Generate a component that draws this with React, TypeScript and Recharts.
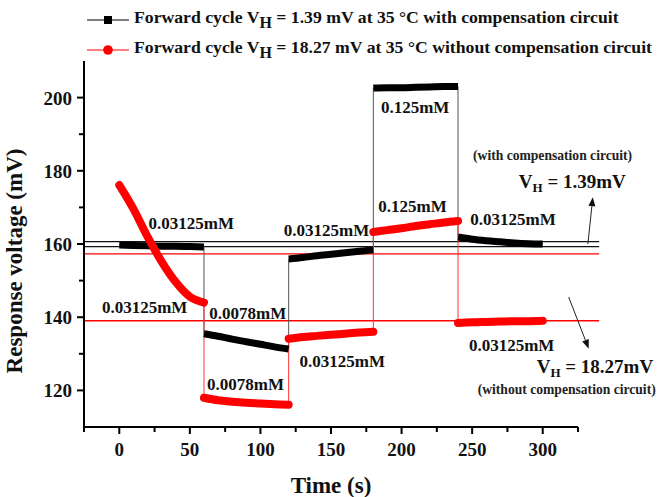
import React from 'react'
import { LineChart, Line, XAxis, YAxis, ReferenceLine, ReferenceDot } from 'recharts'

// each step lasts 60 s, sampled every 10 s
const stepStarts = [0, 60, 120, 180, 240]
const stepOffsets = [0, 10, 20, 30, 40, 50, 60]

const withCompensation = [
  [159.7, 159.6, 159.5, 159.4, 159.4, 159.3, 159.2],
  [135.5, 134.8, 134.0, 133.3, 132.6, 131.9, 131.3],
  [155.9, 156.3, 156.8, 157.2, 157.6, 158.0, 158.4],
  [202.6, 202.7, 202.7, 202.8, 202.9, 203.0, 203.0],
  [161.9, 161.3, 160.9, 160.6, 160.3, 160.1, 160.0],
]

const withoutCompensation = [
  [176.1, 169.6, 162.0, 155.2, 149.6, 145.6, 144.0],
  [118.0, 117.3, 116.9, 116.6, 116.4, 116.2, 116.1],
  [134.1, 134.6, 134.9, 135.2, 135.5, 135.8, 136.0],
  [163.3, 163.8, 164.3, 164.9, 165.4, 165.9, 166.3],
  [138.4, 138.6, 138.7, 138.8, 138.9, 138.9, 139.0],
]

// hysteresis bands
const compensatedBand = [159.26, 160.65]
const uncompensatedBand = [139.03, 157.3]

const xTicks = [-25, 0, 25, 50, 75, 100, 125, 150, 175, 200, 225, 250, 275, 300, 325]
const yTicks = [120, 130, 140, 150, 160, 170, 180, 190, 200]

const stepNotes = [
  { text: '0.03125mM', x: 51, y: 165.8 },
  { text: '0.03125mM', x: 18, y: 142.9 },
  { text: '0.0078mM', x: 91, y: 141.1 },
  { text: '0.0078mM', x: 89.4, y: 121.8 },
  { text: '0.03125mM', x: 146.8, y: 163.7 },
  { text: '0.03125mM', x: 158, y: 127.9 },
  { text: '0.125mM', x: 209.6, y: 197.4 },
  { text: '0.125mM', x: 207.8, y: 170.5 },
  { text: '0.03125mM', x: 279, y: 166.8 },
  { text: '0.03125mM', x: 278, y: 132.5 },
]

const SERIF = "'Liberation Serif', 'Times New Roman', serif"

function thickRows(segs: number[][]) {
  const rows: { t: number; v: number | null }[] = []
  segs.forEach((seg, i) => {
    if (i > 0) rows.push({ t: stepStarts[i], v: null })
    seg.forEach((v, j) => rows.push({ t: stepStarts[i] + stepOffsets[j], v }))
  })
  return rows
}

function thinRows(segs: number[][]) {
  const rows: { t: number; v: number }[] = []
  segs.forEach((seg, i) => {
    seg.forEach((v, j) => rows.push({ t: stepStarts[i] + stepOffsets[j], v }))
  })
  return rows
}

const XTick = (props: any) => {
  const { x, y, payload } = props
  const major = payload.value % 50 === 0
  return (
    <g>
      <line x1={x} x2={x} y1={y} y2={y + (major ? 7 : 5)} stroke="#000" strokeWidth={2} />
      {major && (
        <text x={x} y={y + 29} textAnchor="middle" fontFamily={SERIF} fontWeight="bold" fontSize={19} fill="#111">
          {payload.value}
        </text>
      )}
    </g>
  )
}

const YTick = (props: any) => {
  const { x, y, payload } = props
  const major = payload.value % 20 === 0
  return (
    <g>
      <line x1={x - (major ? 7 : 5)} x2={x} y1={y} y2={y} stroke="#000" strokeWidth={2} />
      {major && (
        <text x={x - 12} y={y + 7} textAnchor="end" fontFamily={SERIF} fontWeight="bold" fontSize={19} fill="#111">
          {payload.value}
        </text>
      )}
    </g>
  )
}

const arrowShape = (p: any) => {
  const { x1, y1, x2, y2 } = p
  const a = Math.atan2(y2 - y1, x2 - x1)
  const len = 9
  const w = 3.5
  const bx = x2 - len * Math.cos(a)
  const by = y2 - len * Math.sin(a)
  const pts = [
    `${x2},${y2}`,
    `${bx + w * Math.sin(a)},${by - w * Math.cos(a)}`,
    `${bx - w * Math.sin(a)},${by + w * Math.cos(a)}`,
  ].join(' ')
  return (
    <g>
      <line x1={x1} y1={y1} x2={bx} y2={by} stroke="#222" strokeWidth={1} />
      <polygon points={pts} fill="#111" />
    </g>
  )
}

const noteShape = (text: string) => (p: any) => (
  <text x={p.cx} y={p.cy + 6} textAnchor="middle" fontFamily={SERIF} fontWeight="bold" fontSize={17} fill="#111">
    {text}
  </text>
)

const vhShape = (value: string) => (p: any) => (
  <text x={p.cx} y={p.cy + 6} textAnchor="middle" fontFamily={SERIF} fontWeight="bold" fontSize={19} fill="#111">
    <tspan>V</tspan>
    <tspan dy={4} fontSize={13}>H</tspan>
    <tspan dy={-4}>{` = ${value}`}</tspan>
  </text>
)

const smallShape = (text: string) => (p: any) => (
  <text x={p.cx} y={p.cy + 4.5} textAnchor="middle" fontFamily={SERIF} fontWeight="bold" fontSize={13.6} fill="#222">
    {text}
  </text>
)

function LegendRow({ color, marker, label, top }: { color: string; marker: 'square' | 'circle'; label: string; top: number }) {
  return (
    <div style={{ position: 'absolute', left: 87, top, display: 'flex', alignItems: 'center', whiteSpace: 'nowrap' }}>
      <svg width={42} height={14} style={{ marginRight: 5 }}>
        <line x1={0} x2={42} y1={7} y2={7} stroke={color} strokeWidth={1.2} />
        {marker === 'square' ? (
          <rect x={17} y={3} width={8} height={8} fill={color} />
        ) : (
          <circle cx={21} cy={7} r={4.8} fill={color} />
        )}
      </svg>
      <span style={{ fontFamily: SERIF, fontWeight: 'bold', fontSize: 17.7, color: '#111' }}>
        Forward cycle V<sub style={{ fontSize: 16, verticalAlign: -5 }}>H</sub>
        {label}
      </span>
    </div>
  )
}

export default function App() {
  return (
    <div style={{ position: 'absolute', left: 0, top: 0, width: 658, height: 497, background: '#fff' }}>
      <LineChart width={658} height={497} margin={{ top: 61, right: 80, bottom: 0, left: 0 }}>
        <XAxis
          type="number"
          dataKey="t"
          domain={[-25, 325]}
          ticks={xTicks}
          allowDataOverflow
          height={70}
          tickSize={0}
          tickMargin={0}
          tickLine={false}
          axisLine={{ stroke: '#000', strokeWidth: 2 }}
          tick={<XTick />}
          interval={0}
          label={{
            value: 'Time (s)',
            position: 'insideBottom',
            offset: 4,
            style: { fontFamily: SERIF, fontWeight: 'bold', fontSize: 23, fill: '#111' },
          }}
        />
        <YAxis
          type="number"
          domain={[110, 210]}
          ticks={yTicks}
          allowDataOverflow
          width={84}
          tickSize={0}
          tickMargin={0}
          tickLine={false}
          axisLine={{ stroke: '#000', strokeWidth: 2 }}
          tick={<YTick />}
          interval={0}
          label={{
            value: 'Response voltage (mV)',
            angle: -90,
            position: 'insideLeft',
            offset: 14,
            dy: 17,
            style: { fontFamily: SERIF, fontWeight: 'bold', fontSize: 23, fill: '#111', textAnchor: 'middle' },
          }}
        />

        {compensatedBand.map(v => (
          <ReferenceLine
            key={`c${v}`}
            segment={[{ x: -25, y: v }, { x: 340, y: v }]}
            ifOverflow="visible"
            stroke="#111"
            strokeWidth={1.2}
          />
        ))}
        {uncompensatedBand.map(v => (
          <ReferenceLine
            key={`u${v}`}
            segment={[{ x: -25, y: v }, { x: 340, y: v }]}
            ifOverflow="visible"
            stroke="#f00"
            strokeWidth={1.4}
          />
        ))}

        <Line data={thinRows(withCompensation)} dataKey="v" type="linear" stroke="#555" strokeWidth={1} dot={false} isAnimationActive={false} />
        <Line data={thinRows(withoutCompensation)} dataKey="v" type="linear" stroke="#f33" strokeWidth={1} dot={false} isAnimationActive={false} />
        <Line
          data={thickRows(withCompensation)}
          dataKey="v"
          type="monotone"
          stroke="#000"
          strokeWidth={7}
          strokeLinecap="butt"
          dot={false}
          isAnimationActive={false}
        />
        <Line
          data={thickRows(withoutCompensation)}
          dataKey="v"
          type="monotone"
          stroke="#f00"
          strokeWidth={8}
          strokeLinecap="round"
          dot={false}
          isAnimationActive={false}
        />

        <ReferenceLine segment={[{ x: 332, y: 160 }, { x: 335.5, y: 172.8 }]} ifOverflow="visible" shape={arrowShape} />
        <ReferenceLine segment={[{ x: 318.4, y: 145.5 }, { x: 332.6, y: 131.4 }]} ifOverflow="visible" shape={arrowShape} />

        {stepNotes.map((n, i) => (
          <ReferenceDot key={i} x={n.x} y={n.y} r={0} ifOverflow="visible" shape={noteShape(n.text)} />
        ))}
        <ReferenceDot x={307} y={184.2} r={0} ifOverflow="visible" shape={smallShape('(with compensation circuit)')} />
        <ReferenceDot x={321} y={177} r={0} ifOverflow="visible" shape={vhShape('1.39mV')} />
        <ReferenceDot x={337} y={126.4} r={0} ifOverflow="visible" shape={vhShape('18.27mV')} />
        <ReferenceDot x={317} y={120.2} r={0} ifOverflow="visible" shape={smallShape('(without compensation circuit)')} />
      </LineChart>
      <LegendRow color="#000" marker="square" top={7} label=" = 1.39 mV at 35 °C with compensation circuit" />
      <LegendRow color="#f00" marker="circle" top={37} label=" = 18.27 mV at 35 °C without compensation circuit" />
    </div>
  )
}
